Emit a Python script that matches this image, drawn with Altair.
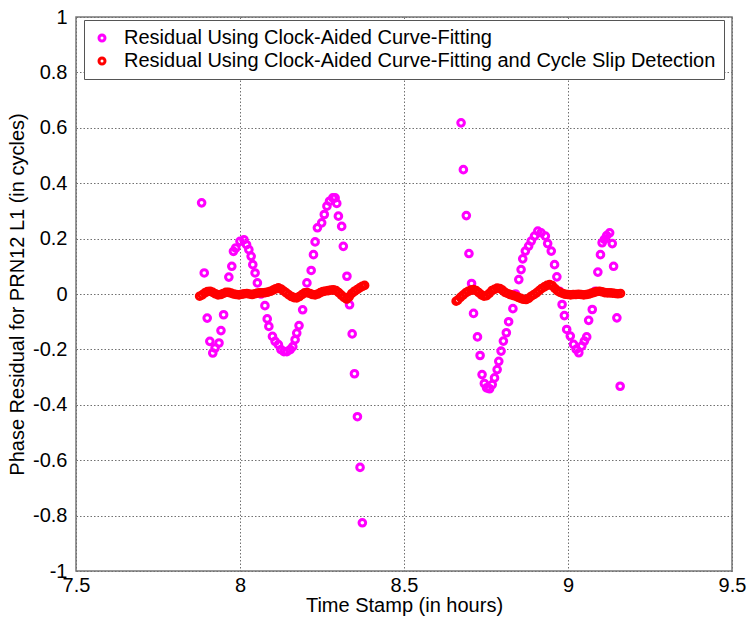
import altair as alt
import pandas as pd

LAB_A = "Residual Using Clock-Aided Curve-Fitting"
LAB_B = "Residual Using Clock-Aided Curve-Fitting and Cycle Slip Detection"

# Magenta series (clock-aided curve fitting), pass 1
mag1_t = [7.883, 7.891, 7.900, 7.908, 7.917, 7.924, 7.936, 7.942, 7.950, 7.966,
          7.975, 7.980, 7.987, 8.000, 8.012, 8.020, 8.027, 8.034, 8.039, 8.046,
          8.053, 8.064, 8.076, 8.083, 8.088, 8.099, 8.107, 8.117, 8.125, 8.134,
          8.143, 8.153, 8.161, 8.168, 8.173, 8.180, 8.191, 8.204, 8.217, 8.224,
          8.229, 8.236, 8.249, 8.257, 8.265, 8.273, 8.283, 8.290, 8.295, 8.300,
          8.310, 8.315, 8.326, 8.334, 8.342, 8.349, 8.358, 8.366, 8.373]
mag1_r = [0.329, 0.076, -0.087, -0.171, -0.213, -0.195, -0.177, -0.132, -0.075, 0.061,
          0.100, 0.154, 0.166, 0.190, 0.196, 0.178, 0.160, 0.136, 0.106, 0.076,
          0.040, 0.000, -0.042, -0.090, -0.117, -0.153, -0.171, -0.183, -0.201, -0.208,
          -0.208, -0.201, -0.190, -0.165, -0.141, -0.114, -0.057, 0.040, 0.085, 0.142,
          0.188, 0.239, 0.257, 0.287, 0.317, 0.335, 0.347, 0.347, 0.327, 0.281,
          0.244, 0.172, 0.064, -0.039, -0.144, -0.288, -0.443, -0.626, -0.826]

# Magenta series, pass 2
mag2_t = [8.674, 8.681, 8.690, 8.698, 8.706, 8.712, 8.724, 8.732, 8.738, 8.745,
          8.752, 8.761, 8.769, 8.776, 8.784, 8.789, 8.796, 8.803, 8.812, 8.819,
          8.832, 8.840, 8.850, 8.857, 8.862, 8.870, 8.880, 8.888, 8.898, 8.908,
          8.918, 8.931, 8.938, 8.949, 8.959, 8.966, 8.974, 8.982, 8.989, 8.996,
          9.007, 9.017, 9.025, 9.033, 9.042, 9.050, 9.057, 9.063, 9.074, 9.083,
          9.091, 9.099, 9.104, 9.111, 9.118, 9.127, 9.135, 9.139, 9.149, 9.159]
mag2_r = [0.618, 0.449, 0.283, 0.146, 0.038, -0.070, -0.155, -0.222, -0.291, -0.323,
          -0.339, -0.342, -0.327, -0.303, -0.273, -0.243, -0.206, -0.170, -0.140, -0.100,
          -0.053, 0.000, 0.052, 0.088, 0.127, 0.155, 0.173, 0.191, 0.209, 0.227,
          0.221, 0.209, 0.182, 0.155, 0.106, 0.062, 0.010, -0.038, -0.078, -0.128,
          -0.152, -0.182, -0.200, -0.212, -0.188, -0.170, -0.155, -0.095, -0.056, 0.010,
          0.079, 0.142, 0.185, 0.197, 0.211, 0.221, 0.182, 0.100, -0.086, -0.333]

# Red series (with cycle slip detection), pass 1
red1_t = [7.877, 7.885, 7.893, 7.901, 7.909, 7.917, 7.925, 7.933, 7.941, 7.949,
          7.957, 7.965, 7.973, 7.981, 7.989, 7.997, 8.005, 8.013, 8.021, 8.029,
          8.037, 8.045, 8.053, 8.061, 8.069, 8.077, 8.085, 8.093, 8.101, 8.109,
          8.117, 8.125, 8.133, 8.141, 8.149, 8.157, 8.165, 8.173, 8.181, 8.189,
          8.197, 8.205, 8.213, 8.221, 8.229, 8.237, 8.245, 8.253, 8.261, 8.269,
          8.277, 8.285, 8.293, 8.301, 8.309, 8.317, 8.325, 8.333, 8.341, 8.349,
          8.357, 8.365, 8.373, 8.380]
red1_r = [-0.008, -0.003, 0.004, 0.009, 0.010, 0.006, 0.001, -0.003, -0.002, 0.002,
          0.006, 0.006, 0.003, 0.000, -0.002, -0.003, -0.001, 0.001, 0.002, 0.000,
          -0.002, 0.001, 0.003, 0.004, 0.004, 0.005, 0.007, 0.010, 0.014, 0.019,
          0.022, 0.018, 0.011, 0.004, -0.003, -0.009, -0.013, -0.014, -0.009, -0.002,
          0.004, 0.005, 0.002, -0.002, -0.003, 0.000, 0.005, 0.009, 0.011, 0.012,
          0.014, 0.015, 0.012, 0.005, -0.004, -0.012, -0.018, -0.010, 0.002, 0.010,
          0.016, 0.022, 0.028, 0.031]

# Red series, pass 2
red2_t = [8.659, 8.664, 8.672, 8.680, 8.688, 8.696, 8.704, 8.712, 8.720, 8.728,
          8.736, 8.744, 8.752, 8.760, 8.768, 8.776, 8.784, 8.792, 8.800, 8.808,
          8.816, 8.824, 8.832, 8.840, 8.848, 8.856, 8.864, 8.872, 8.880, 8.888,
          8.896, 8.904, 8.912, 8.920, 8.928, 8.936, 8.944, 8.952, 8.960, 8.968,
          8.976, 8.984, 8.992, 9.000, 9.008, 9.016, 9.024, 9.032, 9.040, 9.048,
          9.056, 9.064, 9.072, 9.080, 9.088, 9.096, 9.104, 9.112, 9.120, 9.128,
          9.136, 9.144, 9.152, 9.160]
red2_r = [-0.026, -0.022, -0.012, -0.004, 0.004, 0.010, 0.014, 0.016, 0.012, 0.005,
          -0.003, -0.008, -0.006, 0.002, 0.012, 0.017, 0.021, 0.020, 0.014, 0.006,
          0.002, -0.002, -0.005, -0.008, -0.012, -0.016, -0.019, -0.020, -0.016, -0.008,
          -0.002, 0.004, 0.012, 0.020, 0.026, 0.031, 0.034, 0.030, 0.020, 0.011,
          0.006, 0.002, -0.001, -0.002, -0.003, -0.002, -0.002, -0.001, -0.002, -0.003,
          -0.002, 0.000, 0.003, 0.006, 0.009, 0.010, 0.008, 0.005, 0.004, 0.004,
          0.003, 0.002, 0.001, 0.002]

x_ticks = [7.5, 8, 8.5, 9, 9.5]
y_ticks = [-1, -0.8, -0.6, -0.4, -0.2, 0, 0.2, 0.4, 0.6, 0.8, 1]

rows = []
for t, r in zip(mag1_t + mag2_t, mag1_r + mag2_r):
    rows.append({"t": t, "r": r, "s": LAB_A})
for t, r in zip(red1_t + red2_t, red1_r + red2_r):
    rows.append({"t": t, "r": r, "s": LAB_B})
df = pd.DataFrame(rows)

FONT = "Liberation Sans"
FS = 20

chart = alt.Chart(df).mark_point(
    shape="circle", filled=False, size=44, strokeWidth=3, opacity=1
).encode(
    x=alt.X("t:Q",
            scale=alt.Scale(domain=[7.5, 9.5], nice=False, zero=False),
            axis=alt.Axis(values=x_ticks, labelExpr="'' + datum.value",
                          title="Time Stamp (in hours)", labelFlush=False,
                          labelPadding=4, titlePadding=0)),
    y=alt.Y("r:Q",
            scale=alt.Scale(domain=[-1, 1], nice=False, zero=False),
            axis=alt.Axis(values=y_ticks, labelExpr="'' + datum.value",
                          title="Phase Residual for PRN12 L1 (in cycles)",
                          labelFlush=False, labelPadding=9, titlePadding=5)),
    color=alt.Color("s:N",
                    scale=alt.Scale(domain=[LAB_A, LAB_B], range=["#FF00FF", "#FF0000"]),
                    legend=alt.Legend(title=None, orient="none", legendX=8, legendY=3,
                                      fillColor="white", strokeColor="#555555",
                                      padding=8, labelFont=FONT, labelFontSize=FS,
                                      labelColor="black", labelLimit=1000,
                                      symbolType="circle", symbolSize=36,
                                      symbolStrokeWidth=3, labelOffset=12,
                                      rowPadding=3)),
).properties(
    width=656, height=554,
    autosize=alt.AutoSizeParams(type="none"),
    padding={"left": 76, "top": 17, "right": 16, "bottom": 47},
).configure_axis(
    labelFont=FONT, labelFontSize=FS, labelColor="black",
    titleFont=FONT, titleFontSize=FS, titleFontWeight="normal", titleColor="black",
    ticks=False, domain=False,
    grid=True, gridColor="#707070", gridDash=[1.5, 2], gridWidth=1, gridOpacity=1,
).configure_view(
    stroke="#777777", strokeWidth=1.5
)

chart.save("out.html", embed_options={"renderer": "svg", "actions": False})
